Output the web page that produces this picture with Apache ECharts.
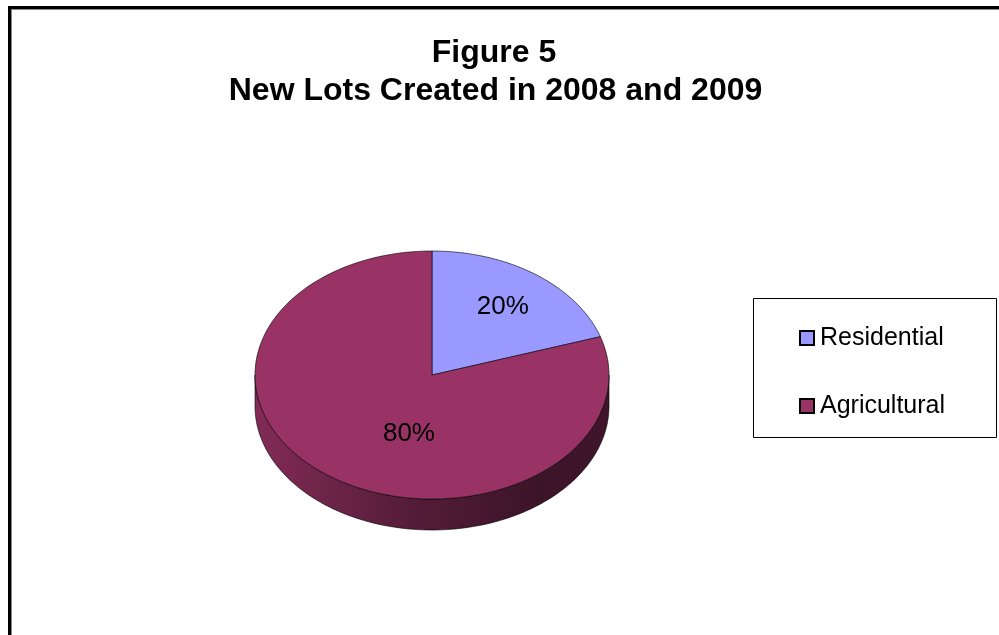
<!DOCTYPE html>
<html>
<head>
<meta charset="utf-8">
<script src="https://cdn.jsdelivr.net/npm/echarts@6/dist/echarts.min.js"></script>
<style>
html,body{margin:0;padding:0;background:#fff;}
#c{width:999px;height:635px;}
</style>
</head>
<body>
<div id="c"></div>
<script>
// ---- data ----
const categories = ['Residential', 'Agricultural'];
const values = [20, 80];
const titleLines = ['Figure 5', 'New Lots Created in 2008 and 2009'];

// ---- style ----
const colors = ['#9999FF', '#993366'];
const CX = 432, CY = 375, RX = 177, RY = 124, DEPTH = 31;
const labelPlace = [{ r: 0.68, da: 0 }, { r: 0.49, da: 20.6 }];
const FONT = '"Liberation Sans", Arial, sans-serif';

const total = values.reduce((a, b) => a + b, 0);
const starts = values.map((v, i) => values.slice(0, i).reduce((a, b) => a + b, 0));

function pt(deg, dy) {
  const t = deg * Math.PI / 180;
  return [CX + RX * Math.cos(t), CY - RY * Math.sin(t) + (dy || 0)];
}
function arc(a0, a1, dy) {
  const pts = [];
  const n = Math.max(2, Math.ceil(Math.abs(a1 - a0) / 1.5));
  for (let k = 0; k <= n; k++) pts.push(pt(a0 + (a1 - a0) * k / n, dy));
  return pts;
}
function shade(hex, f) {
  const n = parseInt(hex.slice(1), 16);
  const r = Math.round(((n >> 16) & 255) * f), g = Math.round(((n >> 8) & 255) * f), b = Math.round((n & 255) * f);
  return 'rgb(' + r + ',' + g + ',' + b + ')';
}

function makeRender(idx) {
  return function (params, api) {
    const v = api.value(0), s = api.value(1);
    const aS = 90 - 360 * s / total;
    const aE = aS - 360 * v / total;
    const base = colors[idx];
    const children = [];
    // side (visible front part: angles in [-180, 0])
    const lo = Math.max(aE, -180), hi = Math.min(aS, 0);
    if (hi > lo) {
      const top = arc(hi, lo, 0);
      const bot = arc(lo, hi, DEPTH);
      children.push({
        type: 'polygon',
        shape: { points: top.concat(bot) },
        style: {
          fill: {
            type: 'linear', x: CX - RX, y: 0, x2: CX + RX, y2: 0, global: true,
            colorStops: [
              { offset: 0, color: shade(base, 0.85) },
              { offset: 0.45, color: shade(base, 0.55) },
              { offset: 0.8, color: shade(base, 0.39) },
              { offset: 1, color: shade(base, 0.42) }
            ]
          },
          stroke: 'rgba(0,0,0,0.85)', lineWidth: 0.7
        }
      });
    }
    // top face
    children.push({
      type: 'polygon',
      shape: { points: [[CX, CY]].concat(arc(aS, aE, 0)) },
      style: { fill: base, stroke: 'rgba(0,0,0,0.85)', lineWidth: 0.7 }
    });
    // label
    const lp = labelPlace[idx];
    const mid = (aS + aE) / 2 + lp.da;
    const t = mid * Math.PI / 180;
    children.push({
      type: 'text',
      x: CX + RX * lp.r * Math.cos(t),
      y: CY - RY * lp.r * Math.sin(t),
      style: {
        text: Math.round(100 * v / total) + '%',
        font: '26px ' + FONT, fill: '#000',
        align: 'center', verticalAlign: 'middle'
      }
    });
    return { type: 'group', children: children };
  };
}

const series = categories.map((name, i) => ({
  name: name,
  type: 'custom',
  coordinateSystem: 'none',
  color: colors[i],
  itemStyle: { color: colors[i] },
  renderItem: makeRender(i),
  data: [[values[i], starts[i]]],
  silent: true,
  animation: false
}));

const chart = echarts.init(document.getElementById('c'), null, { renderer: 'canvas' });
chart.setOption({
  backgroundColor: '#fff',
  animation: false,
  legend: {
    orient: 'vertical',
    left: 799, top: 323,
    padding: 0,
    itemWidth: 14, itemHeight: 14, itemGap: 38,
    icon: 'rect',
    itemStyle: { borderColor: '#000', borderWidth: 2 },
    textStyle: { fontSize: 25, fontFamily: FONT, color: '#000', lineHeight: 30, padding: [0, 0, 0, 1] },
    data: categories,
    selectedMode: false
  },
  graphic: [
    { type: 'rect', shape: { x: 753.5, y: 298.5, width: 243, height: 139 }, style: { fill: '#fff', stroke: '#000', lineWidth: 1 }, z: -1 },
    { type: 'line', shape: { x1: 9.5, y1: 6, x2: 9.5, y2: 635 }, style: { stroke: '#000', lineWidth: 3 } },
    { type: 'line', shape: { x1: 8, y1: 7.5, x2: 999, y2: 7.5 }, style: { stroke: '#000', lineWidth: 3 } },
    { type: 'line', shape: { x1: 11.5, y1: 9, x2: 11.5, y2: 635 }, style: { stroke: '#888', lineWidth: 1 } },
    { type: 'line', shape: { x1: 11, y1: 9.5, x2: 999, y2: 9.5 }, style: { stroke: '#888', lineWidth: 1 } },
    { type: 'text', x: 494, y: 53, style: { text: titleLines[0], font: 'bold 32px ' + FONT, fill: '#000', align: 'center', verticalAlign: 'middle' } },
    { type: 'text', x: 495.5, y: 91.5, style: { text: titleLines[1], font: 'bold 32px ' + FONT, fill: '#000', align: 'center', verticalAlign: 'middle' } }
  ],
  series: series
});
</script>
</body>
</html>
